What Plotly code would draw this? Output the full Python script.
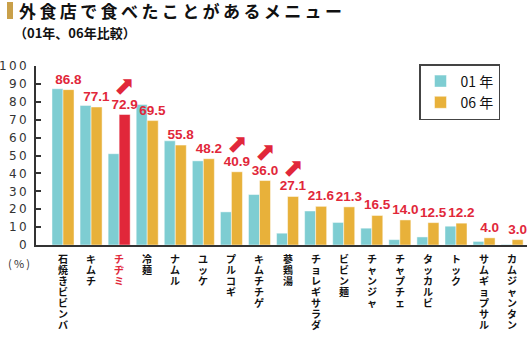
import plotly.graph_objects as go

categories = ["石焼きビビンバ", "キムチ", "チヂミ", "冷麺", "ナムル", "ユッケ", "プルコギ",
              "キムチチゲ", "蔘鶏湯", "チョレギサラダ", "ビビン麺", "チャンジャ", "チャプチェ",
              "タッカルビ", "トック", "サムギョプサル", "カムジャンタン"]
values_01 = [87.3, 78.0, 51.0, 78.5, 58.2, 47.0, 18.5, 28.2, 6.6, 19.0, 12.6, 9.4, 3.0, 4.5, 10.5, 2.0, 0.3]
values_06 = [86.8, 77.1, 72.9, 69.5, 55.8, 48.2, 40.9, 36.0, 27.1, 21.6, 21.3, 16.5, 14.0, 12.5, 12.2, 4.0, 3.0]
highlight = ["チヂミ"]
rising = ["チヂミ", "プルコギ", "キムチチゲ", "蔘鶏湯"]
tick_vals = [0, 10, 20, 30, 40, 50, 60, 70, 80, 90, 100]
tick_text = ["0", "1\u20090", "2\u20090", "3\u20090", "4\u20090", "5\u20090", "6\u20090",
             "7\u20090", "8\u20090", "9\u20090", "1\u20090\u20090"]
series_names = ["01 年", "06 年"]

CYAN = "#7ECDD2"
ORANGE = "#E8B13A"
RED = "#E1273A"
JP = "Noto Sans CJK JP"

W, H = 527, 341
L, R, T, B = 36, 0, 66, 96
plot_h = H - T - B
plot_w = W - L - R


def px_x(p):
    return (p - L) / plot_w


def px_y(p):
    return (H - B - p) / plot_h


fig = go.Figure()
fig.add_trace(go.Bar(
    name=series_names[0], x=categories, y=values_01,
    marker=dict(color=CYAN, line=dict(color="rgba(255,255,255,0.6)", width=0.8)),
))
fig.add_trace(go.Bar(
    name=series_names[1], x=categories, y=values_06,
    marker=dict(color=[RED if c in highlight else ORANGE for c in categories],
                line=dict(color="rgba(255,255,255,0.6)", width=0.8)),
    text=[f"{v:.1f}" for v in values_06], textposition="outside",
    textfont=dict(family="Liberation Sans", size=13.5, color=RED, weight="bold"),
    constraintext="none", cliponaxis=False,
))

annotations = []
# vertical category labels (stacked characters)
for c in categories:
    col = RED if c in highlight else "#111111"
    annotations.append(dict(
        x=c, y=0, xref="x", yref="y",
        text="<br>".join(f"<span style='font-size:10px'>{ch}</span>" for ch in c),
        showarrow=False, yshift=-4, yanchor="top", xanchor="center", align="center",
        font=dict(family=JP, size=8.5, color=col, weight="bold"),
    ))

# rising arrows (just above each 06 label)
for c in rising:
    i = categories.index(c)
    v = values_06[i]
    annotations.append(dict(
        x=i + 0.2, y=v + 16, xref="x", yref="y", text="\u2B08", showarrow=False,
        xanchor="center", yanchor="middle",
        font=dict(family="DejaVu Sans", size=25, color=RED),
    ))

annotations.append(dict(
    x=px_x(19), y=px_y(263), xref="paper", yref="paper", text="(\u2009%\u2009)",
    showarrow=False, xanchor="center", yanchor="middle",
    font=dict(family=JP, size=11, color="#333333"),
))
annotations.append(dict(
    x=px_x(17), y=px_y(11), xref="paper", yref="paper",
    text="\u2009".join("外食店で食べたことがあるメニュー"),
    showarrow=False, xanchor="left", yanchor="middle",
    font=dict(family=JP, size=17, color="#111111", weight="bold"),
))
annotations.append(dict(
    x=px_x(12), y=px_y(32), xref="paper", yref="paper",
    text="（01年、06年比較）",
    showarrow=False, xanchor="left", yanchor="middle",
    font=dict(family=JP, size=13, color="#111111", weight="bold"),
))

shapes = [dict(type="rect", xref="paper", yref="paper",
               x0=px_x(7), x1=px_x(13), y0=px_y(19), y1=px_y(2),
               fillcolor="#C9A04A", line=dict(width=0))]

fig.update_layout(
    width=W, height=H, margin=dict(l=L, r=R, t=T, b=B),
    paper_bgcolor="white", plot_bgcolor="white",
    barmode="group", bargap=0.215, bargroupgap=0,
    showlegend=True,
    legend=dict(x=px_x(419), y=px_y(64), xanchor="left", yanchor="top",
                bgcolor="white", bordercolor="#444444", borderwidth=1.5,
                font=dict(family=JP, size=14, color="#111111"),
                itemwidth=30, tracegroupgap=6),
    annotations=annotations, shapes=shapes,
    font=dict(family=JP),
)
fig.update_xaxes(range=[-0.962, 16.53], showticklabels=False, ticks="",
                 showline=True, linecolor="#333333", linewidth=2, showgrid=False, zeroline=False)
fig.update_yaxes(range=[0, 100], tickvals=tick_vals, ticktext=tick_text,
                 ticks="inside", ticklen=5, tickwidth=1.5, tickcolor="#333333",
                 showline=True, linecolor="#333333", linewidth=2, showgrid=False, zeroline=False,
                 tickfont=dict(family="DejaVu Sans", size=12, color="#333333"),
                 ticklabelstandoff=5)

fig.write_html("out.html")
